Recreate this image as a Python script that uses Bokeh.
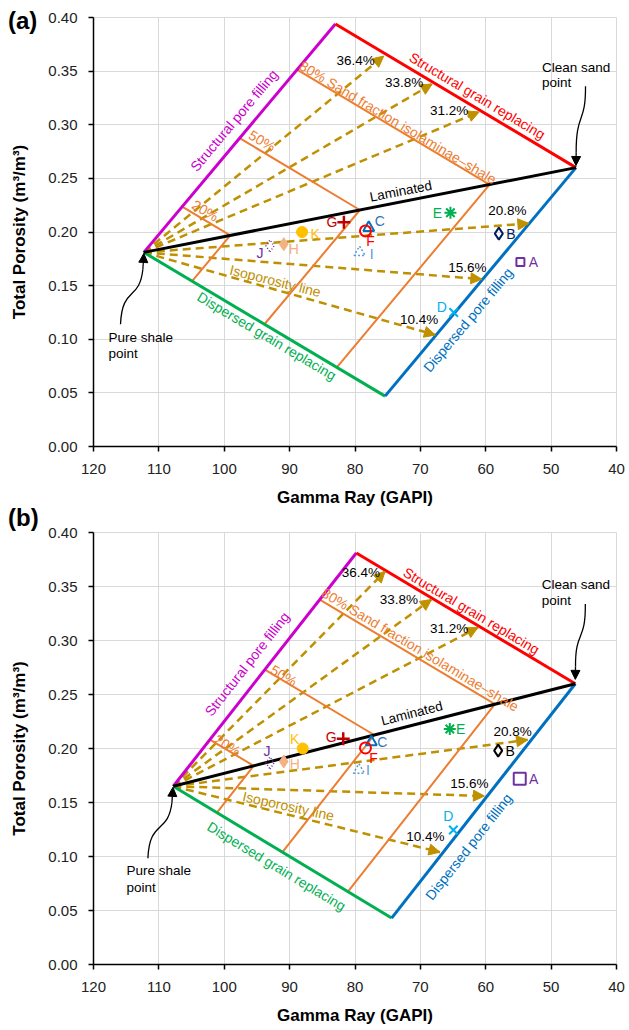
import math
from bokeh.plotting import figure
from bokeh.layouts import column
from bokeh.models import (Arrow, NormalHead, Label, Range1d, FixedTicker,
                          PrintfTickFormatter, ColumnDataSource, Div)
from bokeh.core.properties import value
from bokeh.embed import file_html
from bokeh.resources import INLINE

FONT = "Liberation Sans"

# ---------------- data ----------------
x_ticks = [120, 110, 100, 90, 80, 70, 60, 50, 40]
y_ticks = [0.00, 0.05, 0.10, 0.15, 0.20, 0.25, 0.30, 0.35, 0.40]

# model vertices: pure shale, clean sand, structural end-member, dispersed end-member
vertex_names = ["shale", "sand", "structural", "dispersed"]
vertex_gr_a = [112.3, 46.2, 83.0, 75.4]
vertex_phi_a = [0.181, 0.260, 0.394, 0.047]
vertex_gr_b = [107.8, 46.3, 79.8, 74.4]
vertex_phi_b = [0.165, 0.260, 0.381, 0.043]

sand_fractions = [0.2, 0.5, 0.8]
sand_fraction_labels = ["20%", "50%", "80% Sand fraction isolaminae\u2013shale"]

iso_labels = ["36.4%", "33.8%", "31.2%", "20.8%", "15.6%", "10.4%"]
iso_phi = [0.364, 0.338, 0.312, 0.208, 0.156, 0.104]
iso_end_gr_a = [75.6, 68.2, 61.0, 53.4, 60.6, 67.7]
iso_end_gr_b = [75.4, 68.3, 61.2, 53.6, 60.2, 67.0]

sample_names = ["A", "B", "C", "D", "E", "F", "G", "H", "I", "J", "K"]
sample_gr_a = [54.7, 58.0, 77.9, 64.9, 65.4, 78.4, 81.7, 90.9, 79.3, 93.0, 88.1]
sample_phi_a = [0.172, 0.1985, 0.204, 0.125, 0.218, 0.201, 0.209, 0.1886, 0.181, 0.187, 0.200]
sample_gr_b = [54.8, 58.1, 77.5, 64.95, 65.5, 78.4, 81.8, 90.9, 79.4, 93.0, 88.0]
sample_phi_b = [0.172, 0.198, 0.206, 0.1245, 0.218, 0.2005, 0.209, 0.188, 0.180, 0.1866, 0.200]

# ---------------- styles / layout ----------------
C_MAG = "#CC00CC"
C_RED = "#FF0000"
C_GRN = "#00B050"
C_BLU = "#0070C0"
C_ORA = "#ED7D31"
C_GOLD = "#BF9000"

FRAME_W = 523
BORDER_L = 93
BORDER_R = 13
BORDER_B = 64

marker_styles = [
    dict(marker="square", fill_color=None, line_color="#7030A0", line_width=2, size=8),
    dict(marker="diamond", fill_color=None, line_color="#002060", line_width=2, size=12),
    dict(marker="triangle", fill_color=None, line_color="#0070C0", line_width=2, size=11),
    dict(marker="x", line_color="#00B0F0", line_width=2, size=12),
    dict(marker="asterisk", line_color="#00B050", line_width=2, size=12),
    dict(marker="circle", fill_color=None, line_color="#FF0000", line_width=2, size=11),
    dict(marker="cross", line_color="#C00000", line_width=2.5, size=13),
    dict(marker="diamond", fill_color="#F4B183", line_color="#F4B183", line_width=1, size=13),
    dict(marker="triangle", fill_color=None, line_color="#5B9BD5", line_width=1.5, line_dash="2 2", size=11),
    dict(marker="diamond", fill_color=None, line_color="#7030A0", line_width=1.5, line_dash="1 2", size=12),
    dict(marker="circle", fill_color="#FFC000", line_color="#FFC000", line_width=1, size=11),
]
label_colors = ["#7030A0", "#000000", "#2E75B6", "#00B0F0", "#00B050", "#FF0000",
                "#C00000", "#F4B183", "#5B9BD5", "#7030A0", "#FFC000"]

layout_a = dict(
    top=17, frame_h=429, b_color="#002060", b_label="#002060", a_size=8,
    spf=(98.5, 0.304), sgr=(61.3, 0.327), dgr=(93.5, 0.103), dpf=(62.7, 0.118),
    lam=(73.0, 0.238),
    frac_xy=[(102.9, 0.220), (94.2, 0.285), (73.4, 0.302)],
    iso_text=(92.2, 0.1544),
    pct_xy=[(79.9, 0.3596), (72.5, 0.3394), (65.6, 0.313), (56.7, 0.2197), (62.8, 0.1668), (70.2, 0.1187)],
    clean_xy=(51.4, 0.3533, 0.3393), shale_xy=(117.7, 0.1015, 0.0863),
    clean_curve=(44.74, 0.336, 44.7, 0.300, 46.2, 0.312, 46.17, 0.274),
    clean_tip=(46.2, 0.262),
    shale_curve=(115.87, 0.114, 115.6, 0.150, 113.0, 0.135, 112.45, 0.165),
    shale_tip=(112.3, 0.180),
    dx=[13, 12, 11, -12, -13, 5, -12, 10, 12, -10, 13],
    dy=[0, 0, -7, -5, 0, 10, 0, 5, 2, 7, 2],
)
layout_b = dict(
    top=22, frame_h=432, b_color="#000000", b_label="#000000", a_size=12,
    spf=(96.5, 0.2783), sgr=(62.2, 0.3275), dgr=(92.0, 0.0909), dpf=(62.6, 0.1091),
    lam=(71.3, 0.2325),
    frac_xy=[(99.5, 0.203), (90.9, 0.2675), (70.0, 0.2915)],
    iso_text=(90.2, 0.1467),
    pct_xy=[(79.1, 0.3628), (73.3, 0.3383), (65.6, 0.3112), (55.9, 0.2161), (62.5, 0.1676), (69.25, 0.1184)],
    clean_xy=(51.45, 0.3515, 0.3367), shale_xy=(114.96, 0.087, 0.0717),
    clean_curve=(44.77, 0.3337, 44.7, 0.298, 46.3, 0.310, 46.27, 0.276),
    clean_tip=(46.3, 0.264),
    shale_curve=(111.68, 0.0984, 111.4, 0.135, 108.6, 0.120, 108.0, 0.150),
    shale_tip=(107.85, 0.164),
    dx=[14, 12, 11, -5, 11, 8, -12, 11, 9, -3, -8],
    dy=[0, 0, 0, -14, 0, 10, -2, 3, 0, -12, -10],
)


def add_label(p, x, y, text, color, size="14px", angle=0.0, align="center",
              baseline="middle", bold=False):
    p.add_layout(Label(x=x, y=y, text=text, text_color=color, text_font=FONT,
                       text_font_size=size, angle=angle, angle_units="deg",
                       text_align=align, text_baseline=baseline,
                       text_font_style="bold" if bold else "normal"))


def make_panel(vgr, vphi, end_gr, sgr, sphi, L):
    px_x = FRAME_W / 80.0
    px_y = L["frame_h"] / 0.40

    def screen_angle(g0, p0, g1, p1):
        return math.degrees(math.atan2((p1 - p0) * px_y, -(g1 - g0) * px_x))

    p = figure(frame_width=FRAME_W, frame_height=L["frame_h"],
               x_range=Range1d(120, 40), y_range=Range1d(0, 0.40),
               output_backend="svg", toolbar_location=None,
               min_border_left=BORDER_L, min_border_right=BORDER_R,
               min_border_top=L["top"], min_border_bottom=BORDER_B)
    p.background_fill_color = "white"
    p.border_fill_color = "white"
    p.outline_line_color = "#D9D9D9"
    p.xaxis.ticker = FixedTicker(ticks=x_ticks)
    p.yaxis.ticker = FixedTicker(ticks=y_ticks)
    p.xgrid.ticker = FixedTicker(ticks=x_ticks)
    p.ygrid.ticker = FixedTicker(ticks=y_ticks)
    p.yaxis.formatter = PrintfTickFormatter(format="%.2f")
    for g in (p.xgrid, p.ygrid):
        g.grid_line_color = "#D9D9D9"
        g.grid_line_width = 1
    for ax in (p.xaxis, p.yaxis):
        ax.axis_line_color = "black"
        ax.axis_line_width = 1.5
        ax.major_tick_line_color = "black"
        ax.major_tick_line_width = 1.5
        ax.major_tick_out = 5
        ax.major_tick_in = 0
        ax.minor_tick_line_color = None
        ax.major_label_text_font = FONT
        ax.major_label_text_font_size = "15px"
        ax.major_label_text_color = "#222222"
        ax.axis_label_text_font = FONT
        ax.axis_label_text_font_size = "17px"
        ax.axis_label_text_font_style = "bold"
        ax.axis_label_text_color = "black"
    p.xaxis.axis_label = "Gamma Ray (GAPI)"
    p.yaxis.axis_label = "Total Porosity (m\u00b3/m\u00b3)"
    p.xaxis.major_label_standoff = 12
    p.xaxis.axis_label_standoff = 11
    p.yaxis.major_label_standoff = 11
    p.yaxis.axis_label_standoff = 16

    sh = (vgr[0], vphi[0])
    sa = (vgr[1], vphi[1])
    tp = (vgr[2], vphi[2])
    bt = (vgr[3], vphi[3])

    # isoporosity dashed lines
    for eg, ep in zip(end_gr, iso_phi):
        p.line([sh[0], eg], [sh[1], ep], line_color=C_GOLD, line_width=2.5, line_dash="8 5")

    # sand fraction iso lines
    for f in sand_fractions:
        m = (sh[0] + f * (tp[0] - sh[0]), sh[1] + f * (tp[1] - sh[1]))
        l = (sh[0] + f * (sa[0] - sh[0]), sh[1] + f * (sa[1] - sh[1]))
        g = (sh[0] + f * (bt[0] - sh[0]), sh[1] + f * (bt[1] - sh[1]))
        p.line([m[0], l[0], g[0]], [m[1], l[1], g[1]], line_color=C_ORA, line_width=2)

    # boundaries
    p.line([sh[0], tp[0]], [sh[1], tp[1]], line_color=C_MAG, line_width=3)
    p.line([tp[0], sa[0]], [tp[1], sa[1]], line_color=C_RED, line_width=3)
    p.line([sh[0], bt[0]], [sh[1], bt[1]], line_color=C_GRN, line_width=3)
    p.line([bt[0], sa[0]], [bt[1], sa[1]], line_color=C_BLU, line_width=3)
    p.line([sh[0], sa[0]], [sh[1], sa[1]], line_color="black", line_width=3)

    # arrow heads of isoporosity lines
    for eg, ep in zip(end_gr, iso_phi):
        p.add_layout(Arrow(x_start=sh[0], y_start=sh[1], x_end=eg, y_end=ep,
                           line_alpha=0,
                           end=NormalHead(size=11, fill_color=C_GOLD, line_color=C_GOLD,
                                          line_width=1)))

    # samples
    for i, name in enumerate(sample_names):
        st = dict(marker_styles[i])
        if name == "B":
            st["line_color"] = L["b_color"]
        if name == "A":
            st["size"] = L["a_size"]
        p.scatter([sgr[i]], [sphi[i]], **st)
    colors = list(label_colors)
    colors[1] = L["b_label"]
    src = ColumnDataSource(dict(x=sgr, y=sphi, t=sample_names, dx=L["dx"], dy=L["dy"], c=colors))
    p.text(x="x", y="y", text="t", x_offset="dx", y_offset="dy", text_color="c",
           source=src, text_font=value(FONT), text_font_size="14px",
           text_align="center", text_baseline="middle")

    # line labels
    a_mag = screen_angle(sh[0], sh[1], tp[0], tp[1])
    a_red = screen_angle(tp[0], tp[1], sa[0], sa[1])
    a_grn = screen_angle(sh[0], sh[1], bt[0], bt[1])
    a_blu = screen_angle(bt[0], bt[1], sa[0], sa[1])
    a_lam = screen_angle(sh[0], sh[1], sa[0], sa[1])
    add_label(p, *L["spf"], "Structural pore filling", C_MAG, angle=a_mag)
    add_label(p, *L["sgr"], "Structural grain replacing", C_RED, angle=a_red)
    add_label(p, *L["dgr"], "Dispersed grain replacing", C_GRN, angle=a_grn)
    add_label(p, *L["dpf"], "Dispersed pore filling", C_BLU, angle=a_blu)
    add_label(p, *L["lam"], "Laminated", "black", angle=a_lam, size="13.5px")
    for (fx, fy), txt in zip(L["frac_xy"], sand_fraction_labels):
        add_label(p, fx, fy, txt, C_ORA, angle=a_red)
    a_iso = screen_angle(sh[0], sh[1], end_gr[5], iso_phi[5]) + 1.5
    add_label(p, *L["iso_text"], "Isoporosity line", C_GOLD, angle=a_iso)
    for (tx, ty), txt in zip(L["pct_xy"], iso_labels):
        add_label(p, tx, ty, txt, "black", size="13.5px")

    # annotations
    cx, cy1, cy2 = L["clean_xy"]
    add_label(p, cx, cy1, "Clean sand", "black", size="13.5px", align="left")
    add_label(p, cx, cy2, "point", "black", size="13.5px", align="left")
    sx, sy1, sy2 = L["shale_xy"]
    add_label(p, sx, sy1, "Pure shale", "black", size="13.5px", align="left")
    add_label(p, sx, sy2, "point", "black", size="13.5px", align="left")
    for curve, tip in ((L["clean_curve"], L["clean_tip"]), (L["shale_curve"], L["shale_tip"])):
        x0, y0, cx0, cy0, cx1, cy1_, x1, y1 = curve
        p.bezier(x0=[x0], y0=[y0], cx0=[cx0], cy0=[cy0], cx1=[cx1], cy1=[cy1_],
                 x1=[x1], y1=[y1], line_color="black", line_width=1.3)
        p.add_layout(Arrow(x_start=x1, y_start=y1, x_end=tip[0], y_end=tip[1],
                           line_color="black", line_width=1.3,
                           end=NormalHead(size=9, fill_color="black", line_color="black")))
    return p


pa = make_panel(vertex_gr_a, vertex_phi_a, iso_end_gr_a, sample_gr_a, sample_phi_a, layout_a)
pb = make_panel(vertex_gr_b, vertex_phi_b, iso_end_gr_b, sample_gr_b, sample_phi_b, layout_b)

H_A = layout_a["top"] + layout_a["frame_h"] + BORDER_B
H_B = layout_b["top"] + layout_b["frame_h"] + BORDER_B
TAG_H = 28
tag_style = {"font-family": FONT, "font-size": "24px", "font-weight": "bold",
             "line-height": "28px", "color": "black"}
# tags drawn over the figures via negative margins
tag_a_top = 7
tag_b_top = H_A - 6
div_a = Div(text="(a)", width=50, height=TAG_H, styles=tag_style,
            margin=(tag_a_top - H_A, 0, H_A - tag_a_top - TAG_H, 8))
div_b = Div(text="(b)", width=50, height=TAG_H, styles=tag_style,
            margin=(tag_b_top - H_A - H_B, 0, H_A + H_B - tag_b_top - TAG_H, 8))

page = column(pa, div_a, pb, div_b, spacing=0)
open("out.html", "w").write(file_html(page, INLINE))
